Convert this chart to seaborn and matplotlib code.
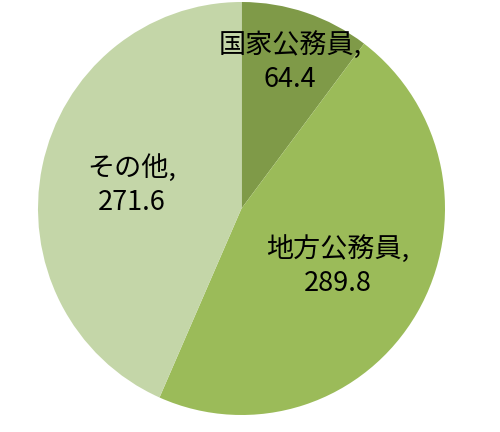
import numpy as np
import seaborn as sns
import matplotlib.pyplot as plt

# 데이터
categories = ["国家公務員", "地方公務員", "その他"]
values = [64.4, 289.8, 271.6]
colors = ["#7f9a48", "#9bbb59", "#c4d6a8"]
label_r = [0.75, 0.55, 0.55]

sns.set_theme(style="white")
plt.rcParams["font.family"] = ["Noto Sans CJK JP", "DejaVu Sans"]

fig = plt.figure(figsize=(5, 4.32), dpi=100)
ax = fig.add_axes([38 / 500, 17 / 432, 407 / 500, 413 / 432])

wedges, _ = ax.pie(values, colors=colors, startangle=90, counterclock=False,
                   wedgeprops=dict(linewidth=0))
ax.set_aspect("auto")
ax.set_xlim(-1, 1)
ax.set_ylim(-1, 1)

# 라벨
for w, name, v, r in zip(wedges, categories, values, label_r):
    mid = np.deg2rad((w.theta1 + w.theta2) / 2)
    ax.text(r * np.cos(mid), r * np.sin(mid), f"{name},\n{v}",
            ha="center", va="center", fontsize=19.5, color="black", linespacing=1.35)

fig.savefig("out.png", dpi=100)
